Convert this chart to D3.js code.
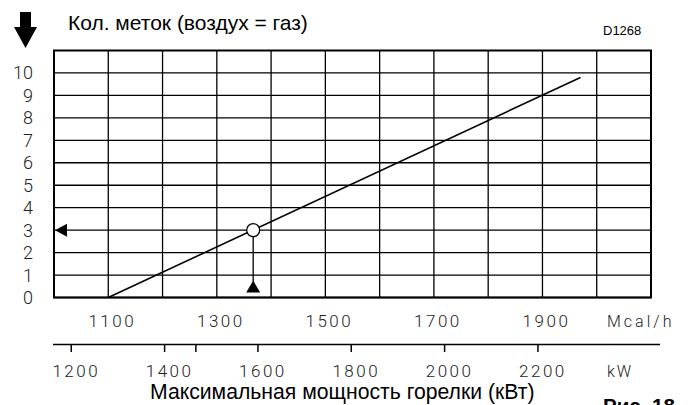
<!DOCTYPE html>
<html>
<head>
<meta charset="utf-8">
<script src="https://cdn.jsdelivr.net/npm/d3@7"></script>
<style>
  body { margin: 0; background: #fff; }
  svg { display: block; }
  .tick-label { font-family: Roboto, "DejaVu Sans", sans-serif; font-weight: 300; fill: #222; }
  .title { font-family: "Liberation Sans", Arial, sans-serif; fill: #000; }
</style>
</head>
<body>
<div id="viz"></div>
<script>
// chart values
var yTicks = [0, 1, 2, 3, 4, 5, 6, 7, 8, 9, 10];
var mcalTicks = [1100, 1300, 1500, 1700, 1900];
var mcalGrid = [1000, 1100, 1200, 1300, 1400, 1500, 1600, 1700, 1800, 1900, 2000, 2100];
var kwTicks = [1200, 1400, 1600, 1800, 2000, 2200];
var kwMinorTicks = [1467];
var lineMcal = [1100, 1970];
var lineMarks = [0, 9.8];
var pointMcal = 1367, pointMarks = 3;
var kwPerMcal = 1.163;

var width = 691, height = 405;
var margin = {top: 50.5, right: 40, bottom: 107.5, left: 54};

var svg = d3.select('#viz').append('svg')
  .attr('width', width)
  .attr('height', height);

var x = d3.scaleLinear().domain([1000, 2100]).range([margin.left, width - margin.right]);
var xKw = d3.scaleLinear().domain(x.domain().map(d => d * kwPerMcal)).range(x.range());
var y = d3.scaleLinear().domain([0, 11]).range([height - margin.bottom, margin.top]);

// grid
var grid = svg.append('g').attr('stroke', '#000').attr('stroke-width', 1.3);
grid.selectAll('.hl').data(yTicks).enter().append('line')
  .attr('x1', x(1000)).attr('x2', x(2100))
  .attr('y1', d => y(d)).attr('y2', d => y(d));
grid.selectAll('.vl').data(mcalGrid).enter().append('line')
  .attr('x1', d => x(d)).attr('x2', d => x(d))
  .attr('y1', y(0)).attr('y2', y(11));

// frame
svg.append('rect')
  .attr('x', x(1000)).attr('y', y(11))
  .attr('width', x(2100) - x(1000)).attr('height', y(0) - y(11))
  .attr('fill', 'none').attr('stroke', '#000').attr('stroke-width', 2);

// y labels
svg.append('g').selectAll('text').data(yTicks).enter().append('text')
  .attr('class', 'tick-label')
  .attr('x', 33).attr('y', d => y(d)).attr('dy', '0.36em')
  .attr('text-anchor', 'end').style('font-size', '18px')
  .text(d => d);

// Mcal/h labels
svg.append('g').selectAll('text').data(mcalTicks).enter().append('text')
  .attr('class', 'tick-label')
  .attr('x', d => x(d) + 4).attr('y', 327)
  .attr('text-anchor', 'middle').style('font-size', '17px').style('letter-spacing', '2.5px')
  .text(d => d);
svg.append('text').attr('class', 'tick-label')
  .attr('x', 607).attr('y', 327).style('font-size', '16px').style('letter-spacing', '3px')
  .text('Mcal/h');

// kW axis
var kwG = svg.append('g').attr('stroke', '#000').attr('stroke-width', 1.5);
kwG.append('line').attr('x1', 53).attr('x2', 660).attr('y1', 344.5).attr('y2', 344.5);
kwG.selectAll('.t').data(kwTicks.concat(kwMinorTicks)).enter().append('line')
  .attr('x1', d => xKw(d)).attr('x2', d => xKw(d))
  .attr('y1', 344.5).attr('y2', 352);
svg.append('g').selectAll('text').data(kwTicks).enter().append('text')
  .attr('class', 'tick-label')
  .attr('x', d => xKw(d) + 5).attr('y', 377)
  .attr('text-anchor', 'middle').style('font-size', '17px').style('letter-spacing', '2.5px')
  .text(d => d);
svg.append('text').attr('class', 'tick-label')
  .attr('x', 607).attr('y', 377).style('font-size', '16px').style('letter-spacing', '2px')
  .text('kW');

// main line
var line = d3.line().x(d => x(d[0])).y(d => y(d[1]));
svg.append('path')
  .datum(d3.zip(lineMcal, lineMarks))
  .attr('d', line)
  .attr('fill', 'none').attr('stroke', '#000').attr('stroke-width', 1.6);

// reading guides
var px = x(pointMcal), py = y(pointMarks);
svg.append('line').attr('x1', px).attr('x2', px).attr('y1', py).attr('y2', y(0) - 16)
  .attr('stroke', '#000').attr('stroke-width', 1.3);
svg.append('path')
  .attr('d', `M${px},${y(0) - 17}L${px - 7},${y(0) - 5}L${px + 7},${y(0) - 5}Z`)
  .attr('fill', '#000');
svg.append('path')
  .attr('d', `M${x(1000) + 1},${py}L${x(1000) + 13},${py - 6.5}L${x(1000) + 13},${py + 6.5}Z`)
  .attr('fill', '#000');
svg.append('circle')
  .attr('cx', px).attr('cy', py).attr('r', 6.5)
  .attr('fill', '#fff').attr('stroke', '#000').attr('stroke-width', 1.3);

// big down arrow
svg.append('path')
  .attr('d', 'M20,12H31V27H37L25.5,48L14,27H20Z')
  .attr('fill', '#000');

// titles
svg.append('text').attr('class', 'title')
  .attr('x', 68).attr('y', 30).style('font-size', '21px')
  .text('Кол. меток (воздух = газ)');
svg.append('text').attr('class', 'title')
  .attr('x', 603).attr('y', 35).style('font-size', '13px')
  .text('D1268');
svg.append('text').attr('class', 'title')
  .attr('x', 150).attr('y', 399).style('font-size', '21.2px')
  .text('Максимальная мощность горелки (кВт)');
svg.append('text').attr('class', 'title')
  .attr('x', 603).attr('y', 413).style('font-size', '20.5px').style('font-weight', 'bold')
  .text('Рис. 18');
</script>
</body>
</html>
